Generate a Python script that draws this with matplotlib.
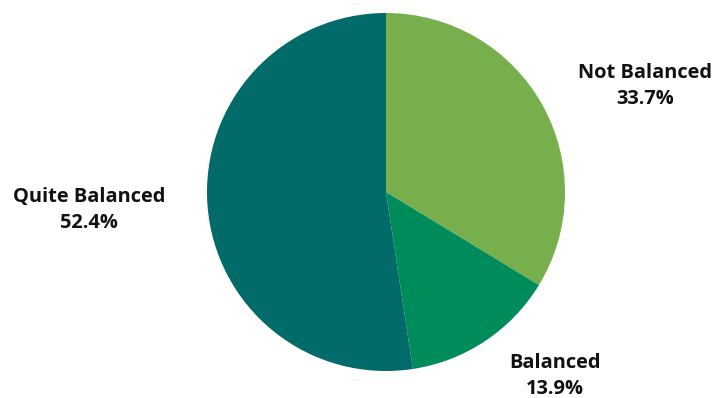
import os
import matplotlib
matplotlib.use("Agg")
import matplotlib.pyplot as plt
from matplotlib.font_manager import FontProperties

labels = ["Not Balanced", "Balanced", "Quite Balanced"]
shares = [33.7, 13.9, 52.4]
colors = ["#76AF4B", "#008C5A", "#006B68"]
# label block centres in pixel space (x, y from top)
label_pos = [(645, 86), (555, 376), (89, 210)]

W, H = 727, 398

bold_path = "/usr/share/fonts/truetype/open-sans/OpenSans-Bold.ttf"
if os.path.exists(bold_path):
    label_font = FontProperties(fname=bold_path, size=14.4)
else:
    label_font = FontProperties(family="Open Sans", weight="bold", size=14.4)

fig = plt.figure(figsize=(W / 100, H / 100), dpi=100)
ax = fig.add_axes([0, 0, 1, 1])
ax.set_xlim(0, W)
ax.set_ylim(0, H)
ax.set_aspect("equal")
ax.axis("off")

ax.pie(shares, colors=colors, startangle=90, counterclock=False,
       center=(386, H - 192), radius=179,
       wedgeprops=dict(linewidth=0))
ax.set_xlim(0, W)
ax.set_ylim(0, H)

for lab, val, (x, y) in zip(labels, shares, label_pos):
    ax.text(x, H - y, f"{lab}\n{val:.1f}%", ha="center", va="center",
            fontproperties=label_font, linespacing=1.38, color="#111111")

fig.savefig("out.png", dpi=100)
